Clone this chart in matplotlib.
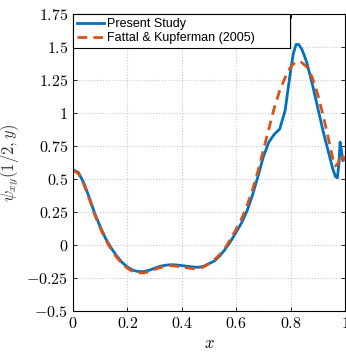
import numpy as np
import matplotlib
matplotlib.use("Agg")
import matplotlib.pyplot as plt

plt.rcParams['mathtext.fontset'] = 'cm'

# Present Study
x_present = [0.0, 0.02, 0.04, 0.06, 0.08, 0.10, 0.12, 0.14, 0.16, 0.18, 0.20,
             0.22, 0.24, 0.26, 0.28, 0.30, 0.32, 0.34, 0.36, 0.38, 0.40, 0.42,
             0.44, 0.46, 0.48, 0.50, 0.52, 0.54, 0.56, 0.58, 0.60, 0.62, 0.64,
             0.66, 0.68, 0.70, 0.72, 0.74, 0.76, 0.78, 0.79, 0.80, 0.81, 0.82,
             0.83, 0.84, 0.85, 0.86, 0.88, 0.90, 0.92, 0.94, 0.955, 0.965,
             0.972, 0.978, 0.982, 0.987, 0.992, 1.0]
y_present = [0.57, 0.55, 0.47, 0.36, 0.24, 0.14, 0.05, -0.02, -0.08, -0.13, -0.165,
             -0.19, -0.20, -0.20, -0.19, -0.175, -0.16, -0.152, -0.148, -0.15, -0.155, -0.16,
             -0.165, -0.168, -0.16, -0.14, -0.12, -0.08, -0.03, 0.03, 0.10, 0.17, 0.26,
             0.38, 0.52, 0.67, 0.78, 0.84, 0.88, 1.02, 1.17, 1.32, 1.45, 1.52,
             1.52, 1.49, 1.44, 1.38, 1.22, 1.04, 0.86, 0.70, 0.58, 0.52,
             0.51, 0.62, 0.78, 0.72, 0.64, 0.66]

# Fattal & Kupferman (2005)
x_fk = [0.0, 0.02, 0.04, 0.06, 0.08, 0.10, 0.12, 0.14, 0.16, 0.18, 0.20,
        0.22, 0.24, 0.26, 0.28, 0.30, 0.32, 0.34, 0.36, 0.38, 0.40, 0.42,
        0.44, 0.46, 0.48, 0.50, 0.52, 0.54, 0.56, 0.58, 0.60, 0.62, 0.64,
        0.66, 0.68, 0.70, 0.72, 0.74, 0.76, 0.78, 0.80, 0.82, 0.84, 0.86,
        0.88, 0.90, 0.92, 0.94, 0.955, 0.965, 0.975, 0.985, 1.0]
y_fk = [0.57, 0.54, 0.46, 0.35, 0.23, 0.13, 0.04, -0.03, -0.09, -0.14, -0.175,
        -0.20, -0.21, -0.21, -0.20, -0.185, -0.17, -0.16, -0.155, -0.16, -0.165, -0.172,
        -0.178, -0.178, -0.165, -0.14, -0.11, -0.07, -0.02, 0.05, 0.12, 0.20, 0.30,
        0.42, 0.56, 0.72, 0.88, 1.04, 1.17, 1.27, 1.35, 1.39, 1.385, 1.35,
        1.27, 1.14, 0.98, 0.80, 0.66, 0.60, 0.62, 0.69, 0.64]

xticks = [0, 0.2, 0.4, 0.6, 0.8, 1]
xticklabels = ['0', '0.2', '0.4', '0.6', '0.8', '1']
yticks = [-0.5, -0.25, 0, 0.25, 0.5, 0.75, 1, 1.25, 1.5, 1.75]
yticklabels = ['-0.5', '-0.25', '0', '0.25', '0.5', '0.75', '1', '1.25', '1.5', '1.75']

fig = plt.figure(figsize=(3.46, 3.54), dpi=100)
ax = fig.add_axes([0.211, 0.121, 0.786, 0.839])

# trailing spaces widen the legend box like the MATLAB original
ax.plot(x_present, y_present, color='#0072BD', lw=2.0, label='Present Study')
ax.plot(x_fk, y_fk, color='#D95319', lw=2.0, ls=(0, (3.5, 2.2)),
        label='Fattal & Kupferman (2005)         ')

ax.set_xlim(0, 1)
ax.set_ylim(-0.5, 1.75)
ax.set_xticks(xticks)
ax.set_xticklabels(['$%s$' % s for s in xticklabels], fontsize=11.5)
ax.set_yticks(yticks)
ax.set_yticklabels(['$%s$' % s for s in yticklabels], fontsize=11.5)
ax.tick_params(direction='in', top=True, right=True, length=3, width=0.6)
ax.grid(True, ls=':', color='#c8c8c8', lw=0.8)
ax.set_axisbelow(True)
for s in ax.spines.values():
    s.set_linewidth(0.8)

ax.set_xlabel('$x$', fontsize=12, labelpad=2)
ax.set_ylabel(r'$\psi_{xy}(1/2,y)$', fontsize=12, color='#333333')
ax.yaxis.set_label_coords(-0.19, 0.5)

leg = ax.legend(loc='upper left', borderaxespad=0, fancybox=False,
                edgecolor='black', framealpha=1,
                prop={'family': 'Liberation Sans', 'size': 9.0},
                handlelength=2.2, handletextpad=0.25, labelspacing=0.2,
                borderpad=0.3)
leg.get_frame().set_linewidth(0.8)

fig.savefig('out.png', dpi=100)
